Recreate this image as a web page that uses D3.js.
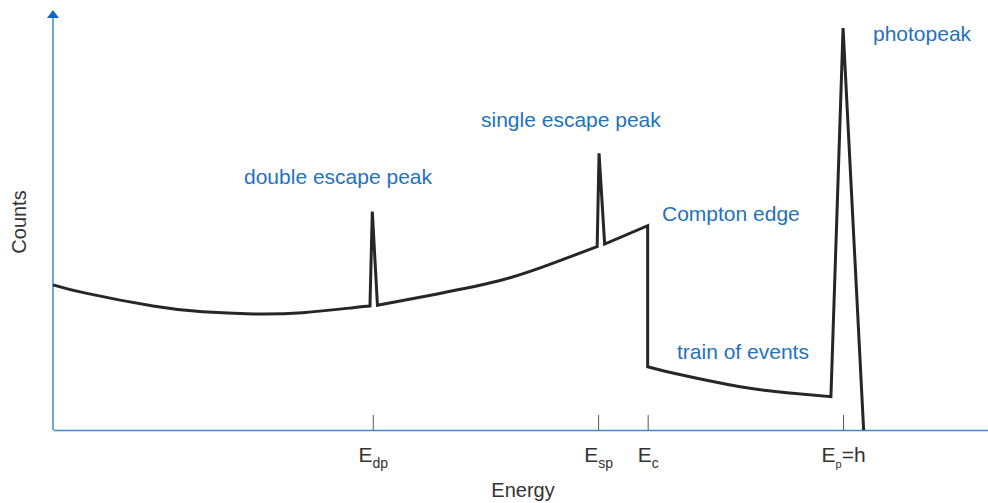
<!DOCTYPE html>
<html>
<head>
<meta charset="utf-8">
<script src="https://cdn.jsdelivr.net/npm/d3@7/dist/d3.min.js"></script>
<style>
  html, body { margin: 0; padding: 0; background: #ffffff; }
  svg { display: block; font-family: "Liberation Sans", Arial, Helvetica, sans-serif; }
</style>
</head>
<body>
<svg id="chart" width="988" height="503"></svg>
<script>
// Gamma-ray spectrum (energy and counts in arbitrary units, 0-100)
// Smooth continuum below the double escape peak
const lowContinuum = [
  [0.0, 34.9], [3.5, 32.9], [10.7, 29.8], [16.0, 28.4], [21.4, 27.9],
  [26.7, 28.2], [32.1, 29.4], [33.9, 29.8]
];
// Continuum between the double and single escape peaks
const midContinuum = [
  [34.7, 30.0], [41.1, 32.7], [48.1, 36.1], [53.5, 40.1], [58.2, 44.1]
];
// Compton shoulder rising to the edge
const comptonShoulder = [[59.0, 44.7], [63.6, 49.1]];
// Multiple-scatter events between the Compton edge and the photopeak
const trainOfEvents = [
  [63.6, 15.2], [66.3, 13.7], [73.5, 10.4], [78.8, 8.9], [83.2, 8.0]
];
// Peak apexes
const peakNames = ["double escape", "single escape", "photo"];
const peakEnergy = [34.15, 58.4, 84.5];
const peakCounts = [52.5, 66.5, 96.6];
// High-energy cutoff after the photopeak
const cutoff = [86.7, 0.0];

// Marked energies on the x axis
const markerEnergies = [34.2, 58.3, 63.6, 84.5];
const markerLabels = [
  { main: "E", sub: "dp", tail: "" },
  { main: "E", sub: "sp", tail: "" },
  { main: "E", sub: "c", tail: "" },
  { main: "E", sub: "p", tail: "=h" }
];

// Annotation texts
const annotationTexts = [
  "double escape peak", "single escape peak", "Compton edge",
  "train of events", "photopeak"
];

const svg = d3.select("#chart");
const blue = "#1f72bd";
const axisBlue = "#3f88cc";

const x = d3.scaleLinear().domain([0, 100]).range([53, 988]);
const y = d3.scaleLinear().domain([0, 100]).range([430, 14]);

// ---- axes ----
const xAxis = d3.axisBottom(x)
  .tickValues(markerEnergies)
  .tickSize(-15)
  .tickSizeOuter(0)
  .tickFormat("");

const gx = svg.append("g")
  .attr("transform", `translate(0,${y(0)})`)
  .call(xAxis);
gx.select(".domain").attr("stroke", axisBlue).attr("stroke-width", 1.5);
gx.selectAll(".tick line").attr("stroke", "#555").attr("stroke-width", 1);

gx.selectAll(".tick").each(function (d, i) {
  const lab = markerLabels[i];
  const t = d3.select(this).append("text")
    .attr("y", 32)
    .attr("fill", "#333")
    .attr("text-anchor", "middle")
    .style("font-size", "21px");
  t.append("tspan").text(lab.main);
  t.append("tspan").attr("dy", 6).style("font-size", lab.tail ? "11px" : "14px").text(lab.sub);
  if (lab.tail) t.append("tspan").attr("dy", -6).text(lab.tail);
});

// y axis with arrowhead
svg.append("line")
  .attr("x1", x(0)).attr("x2", x(0))
  .attr("y1", y(0)).attr("y2", y(100) + 2)
  .attr("stroke", axisBlue).attr("stroke-width", 1.5);
svg.append("path")
  .attr("d", d3.line()([[x(0) - 6, y(100) + 4], [x(0) + 6, y(100) + 4], [x(0), y(100) - 4]]) + "Z")
  .attr("fill", "#1565c0");

// axis titles
svg.append("text")
  .attr("x", 523).attr("y", 497)
  .attr("text-anchor", "middle")
  .attr("fill", "#333")
  .style("font-size", "20px")
  .text("Energy");
svg.append("text")
  .attr("transform", `translate(26,222) rotate(-90)`)
  .attr("text-anchor", "middle")
  .attr("fill", "#333")
  .style("font-size", "20px")
  .text("Counts");

// ---- spectrum curve ----
const smooth = d3.line().x(d => x(d[0])).y(d => y(d[1])).curve(d3.curveNatural);
const straight = d3.line().x(d => x(d[0])).y(d => y(d[1]));
const join = s => s.replace(/^M/, "L");
const apex = i => `L${x(peakEnergy[i])},${y(peakCounts[i])}`;

const spectrumPath =
  smooth(lowContinuum) +
  apex(0) +
  join(smooth(midContinuum)) +
  apex(1) +
  join(straight(comptonShoulder)) +
  join(smooth(trainOfEvents)) +
  apex(2) +
  `L${x(cutoff[0])},${y(cutoff[1])}`;

svg.append("path")
  .attr("d", spectrumPath)
  .attr("fill", "none")
  .attr("stroke", "#262626")
  .attr("stroke-width", 3)
  .attr("stroke-linejoin", "miter");

// ---- annotations ----
const annotationPos = [[244, 184], [481, 127], [662, 221], [677, 359], [873, 41]];
svg.append("g")
  .selectAll("text")
  .data(annotationTexts)
  .join("text")
  .attr("x", (d, i) => annotationPos[i][0])
  .attr("y", (d, i) => annotationPos[i][1])
  .attr("fill", blue)
  .style("font-size", "21px")
  .text(d => d);
</script>
</body>
</html>
